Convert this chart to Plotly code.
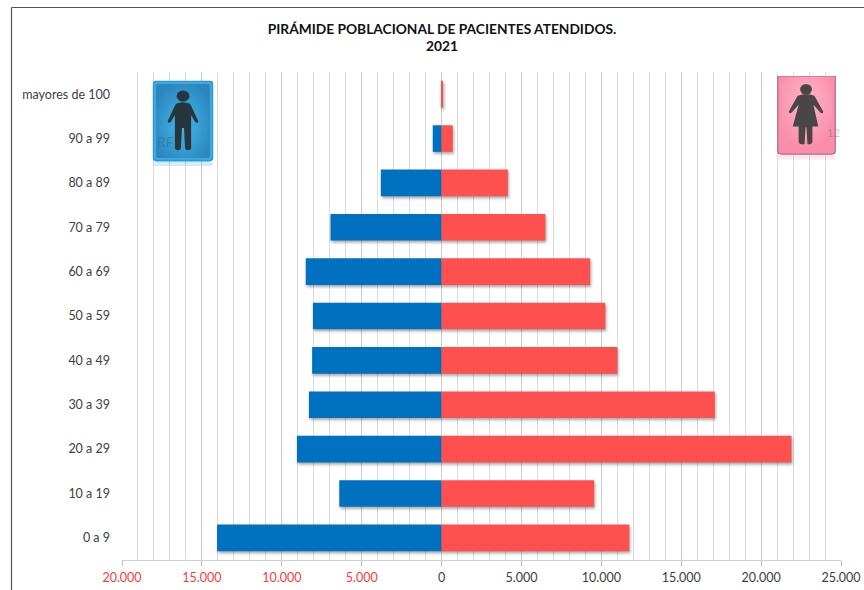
import base64
import plotly.graph_objects as go

categories = ["0 a 9", "10 a 19", "20 a 29", "30 a 39", "40 a 49", "50 a 59",
              "60 a 69", "70 a 79", "80 a 89", "90 a 99", "mayores de 100"]
hombres = [14050, 6400, 9050, 8300, 8100, 8050, 8500, 6950, 3800, 550, 10]
mujeres = [11750, 9550, 21900, 17100, 11000, 10250, 9300, 6500, 4150, 700, 60]
tick_vals = [-20000, -15000, -10000, -5000, 0, 5000, 10000, 15000, 20000, 25000]
tick_text = ["20.000", "15.000", "10.000", "5.000", "0", "5.000", "10.000", "15.000", "20.000", "25.000"]
titulo = "PIRÁMIDE POBLACIONAL DE PACIENTES ATENDIDOS.<br>2021"

W, H = 864, 590
L, R, T, B = 122, 841, 72, 560


def icon_uri(kind):
    if kind == "m":
        defs = ('<radialGradient id="g" cx="50%" cy="55%" r="60%"><stop offset="0" stop-color="#45b7ec"/>'
                '<stop offset="1" stop-color="#2a86bd"/></radialGradient>')
        frame = '<rect x="0.8" y="0.8" width="58.4" height="78.4" rx="3" fill="#3fa9e0" stroke="#2f97cf" stroke-width="1.5"/>'
        inner = '<rect x="3.5" y="3.5" width="53" height="73" rx="2" fill="url(#g)"/>'
        person = ('<ellipse cx="30" cy="15.5" rx="6.3" ry="5.5" fill="#25363f"/>'
                  '<path d="M23 23 Q30 20 37 23 L45 40 Q45 43 42 41 L38 34 L38 66 Q38 69 35 69 Q32 69 32 66 '
                  'L31 47 L29 47 L28 66 Q28 69 25 69 Q22 69 22 66 L22 34 L18 41 Q15 43 15 40 Z" fill="#25363f"/>')
        reflect = '<rect x="1" y="80" width="58" height="4.5" fill="#3fa9e0" opacity="0.22"/>'
    else:
        defs = ('<radialGradient id="g" cx="50%" cy="35%" r="60%"><stop offset="0" stop-color="#ffb6cb"/>'
                '<stop offset="1" stop-color="#f98eac"/></radialGradient>')
        frame = '<path d="M0.8 0 L0.8 76 Q0.8 79 4 79 L56 79 Q59.2 79 59.2 76 L59.2 0 Z" fill="#f890ae" stroke="#b9637e" stroke-width="1.2"/>'
        inner = '<rect x="3" y="1" width="54" height="76" rx="2" fill="url(#g)"/>'
        person = ('<ellipse cx="29.5" cy="13.5" rx="6" ry="5.5" fill="#4a4648"/>'
                  '<path d="M21 20 Q30 17 38 20 L47 36 Q47 39 44 37 L37 29 L42 51 L36 51 L36 66 Q36 69 33 69 '
                  'L31 69 L30 52 L29 52 L28 69 L25 69 Q22 69 22 66 L22 51 L16 51 L22 29 L15 37 Q12 39 12 36 Z" fill="#4a4648"/>')
        reflect = '<rect x="1" y="80" width="58" height="4.5" fill="#f890ae" opacity="0.22"/>'
    svg = ('<svg xmlns="http://www.w3.org/2000/svg" width="60" height="85" viewBox="0 0 60 85">'
           f'<defs>{defs}</defs>{reflect}{frame}{inner}{person}</svg>')
    return "data:image/svg+xml;base64," + base64.b64encode(svg.encode()).decode()


fig = go.Figure()
fig.add_bar(y=categories, x=[-v for v in hombres], orientation="h", marker_color="#0070c0",
            marker_line_width=0, name="Hombres", showlegend=False)
fig.add_bar(y=categories, x=mujeres, orientation="h", marker_color="#ff5050",
            marker_line_width=0, name="Mujeres", showlegend=False)

colored = [f'<span style="color:#ff3b3b">{t}</span>' if v < 0 else t for v, t in zip(tick_vals, tick_text)]

fig.update_layout(
    width=W, height=H, autosize=False,
    margin=dict(l=L, r=W - R, t=T, b=H - B, pad=0, autoexpand=False),
    paper_bgcolor="white", plot_bgcolor="white",
    barmode="relative", bargap=0.4,
    font=dict(family="Lato, Carlito, sans-serif", size=12.5, color="#404040"),
    title=dict(text=titulo, x=442 / W, xref="container", xanchor="center",
               y=1 - 33.5 / H, yref="container", yanchor="top", automargin=False,
               font=dict(family="Lato, sans-serif", size=13.75, color="#111111", weight="bold")),
    xaxis=dict(range=[-20000, 25000], tickvals=tick_vals, ticktext=colored, ticks="outside", ticklen=5,
               tickcolor="#bfbfbf", showline=True, linecolor="#d0d0d0", linewidth=1, side="bottom",
               showgrid=True, gridcolor="#cccccc", gridwidth=1, zeroline=False, automargin=False,
               ticklabelstandoff=1,
               minor=dict(dtick=1000, showgrid=True, gridcolor="#dcdcdc", gridwidth=1, ticks=""),
               tickfont=dict(size=12.5), fixedrange=True),
    yaxis=dict(type="category", categoryorder="array", categoryarray=categories, ticks="",
               showgrid=False, zeroline=False, showline=False, ticklabelstandoff=11, automargin=False,
               tickfont=dict(size=12.5), fixedrange=True),
    images=[
        dict(source=icon_uri("m"), xref="paper", yref="paper", x=(152.5 - L) / (R - L), y=(B - 80.5) / (B - T),
             sizex=61 / (R - L), sizey=86 / (B - T), xanchor="left", yanchor="top", sizing="stretch", layer="above"),
        dict(source=icon_uri("f"), xref="paper", yref="paper", x=(777 - L) / (R - L), y=(B - 76) / (B - T),
             sizex=59 / (R - L), sizey=84 / (B - T), xanchor="left", yanchor="top", sizing="stretch", layer="above"),
    ],
    annotations=[
        dict(text="RF", xref="paper", yref="paper", x=(155 - L) / (R - L), y=(B - 131) / (B - T), xanchor="left",
             showarrow=False, font=dict(size=14, color="rgba(60,100,130,0.45)")),
        dict(text="12", xref="paper", yref="paper", x=(825 - L) / (R - L), y=(B - 124) / (B - T), xanchor="left",
             showarrow=False, font=dict(size=11, color="rgba(120,90,100,0.4)")),
    ],
    shapes=[
        dict(type="line", xref="paper", yref="paper", x0=(11.5 - L) / (R - L), x1=(11.5 - L) / (R - L),
             y0=(B - 7.5) / (B - T), y1=(B - H) / (B - T), line=dict(color="#555555", width=1.2)),
        dict(type="line", xref="paper", yref="paper", x0=(11.5 - L) / (R - L), x1=(W - L) / (R - L),
             y0=(B - 7.5) / (B - T), y1=(B - 7.5) / (B - T), line=dict(color="#555555", width=1.2)),
    ],
)

css = """
var s=document.createElement('style');
s.textContent='.barlayer .point path{filter:drop-shadow(1px 2px 1.5px rgba(0,0,0,0.35));}body{margin:0;}';
document.head.appendChild(s);
"""
fig.write_html("out.html", post_script=css, config={"displayModeBar": False})
